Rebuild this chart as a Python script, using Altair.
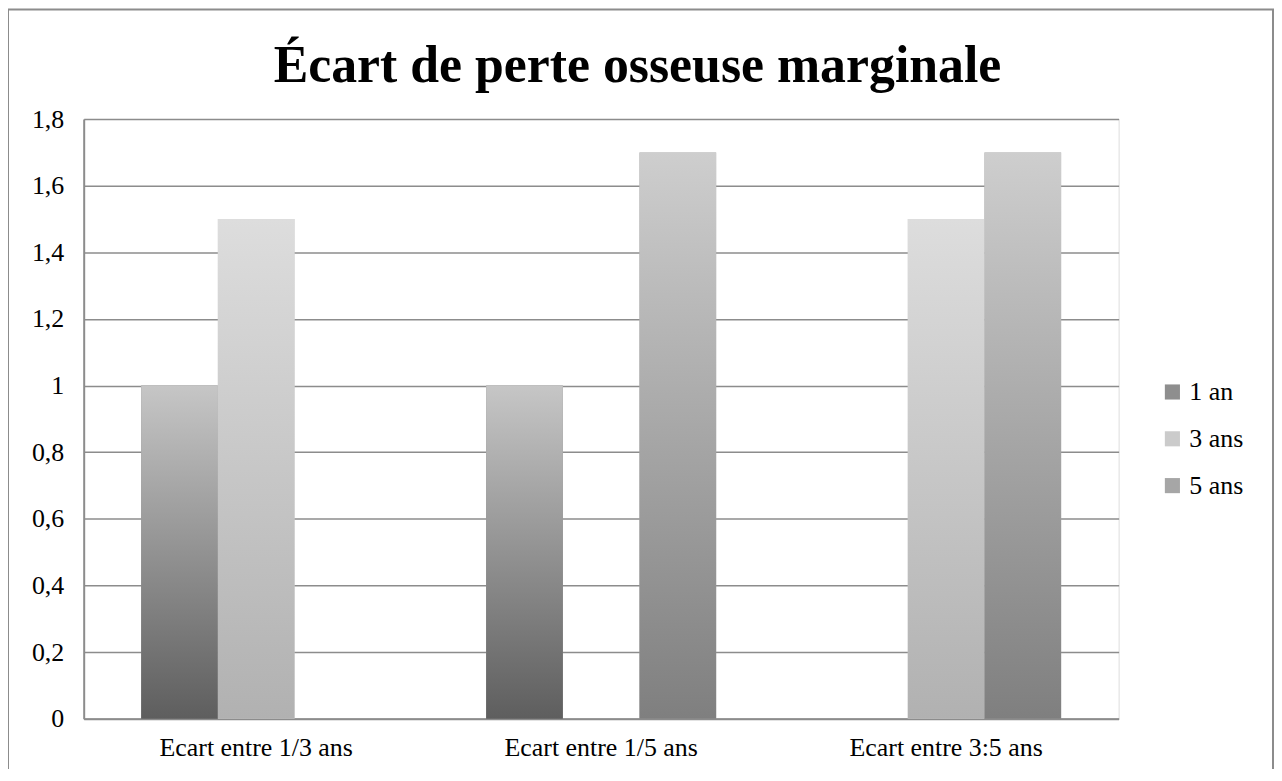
import altair as alt
import pandas as pd

# ---- data ----
categories = ["Ecart entre 1/3 ans", "Ecart entre 1/5 ans", "Ecart entre 3:5 ans"]
series = ["1 an", "3 ans", "5 ans"]
values_1an = [1.0, 1.0, None]
values_3ans = [1.5, None, 1.5]
values_5ans = [None, 1.7, 1.7]
y_ticks = [0, 0.2, 0.4, 0.6, 0.8, 1.0, 1.2, 1.4, 1.6, 1.8]
title_text = "Écart de perte osseuse marginale"

rows = []
for s, vals in zip(series, [values_1an, values_3ans, values_5ans]):
    for c, v in zip(categories, vals):
        if v is not None:
            rows.append({"cat": c, "serie": s, "val": v})
df = pd.DataFrame(rows)

# ---- styles ----
FONT = "Liberation Serif"
grad = {  # (top, bottom)
    "1 an": ("#c6c6c6", "#5e5e5e"),
    "3 ans": ("#dddddd", "#b1b1b1"),
    "5 ans": ("#cecece", "#7f7f7f"),
}
legend_colors = ["#8e8e8e", "#cbcbcb", "#a6a6a6"]
GRID = "#8c8c8c"

W, H = 1039, 602

x_enc = alt.X(
    "cat:N", sort=categories,
    scale=alt.Scale(domain=categories, paddingInner=1/3, paddingOuter=1/6),
    axis=alt.Axis(title=None, labelAngle=0, labelFont=FONT, labelFontSize=26,
                  labelColor="#000", labelPadding=16, ticks=False, labelLimit=0,
                  domainColor=GRID, domainWidth=2),
)
xo_enc = alt.XOffset("serie:N", sort=series,
                     scale=alt.Scale(domain=series, paddingInner=0, paddingOuter=0))
y_enc = alt.Y(
    "val:Q", scale=alt.Scale(domain=[0, 1.8], nice=False, zero=True),
    axis=alt.Axis(title=None, values=y_ticks,
                  labelExpr="replace(format(datum.value, '.1~f'), '.', ',')",
                  labelFont=FONT, labelFontSize=26, labelColor="#000",
                  labelPadding=20, ticks=False, grid=True, gridColor=GRID,
                  gridWidth=1.5, domainColor=GRID, domainWidth=2),
)

base = alt.Chart(df).encode(x=x_enc, xOffset=xo_enc, y=y_enc)

legend_layer = base.mark_bar().encode(
    color=alt.Color(
        "serie:N", sort=series,
        scale=alt.Scale(domain=series, range=legend_colors),
        legend=alt.Legend(title=None, orient="none", legendX=1080, legendY=261,
                          symbolType="square", symbolSize=230, symbolStrokeWidth=0,
                          labelFont=FONT, labelFontSize=26, labelColor="#000",
                          labelOffset=4, rowPadding=21),
    )
)

grad_layers = []
for s in series:
    top, bottom = grad[s]
    grad_layers.append(
        base.transform_filter(alt.datum.serie == s).mark_bar(
            color=alt.LinearGradient(
                gradient="linear",
                stops=[alt.GradientStop(offset=0, color=top),
                       alt.GradientStop(offset=1, color=bottom)],
                x1=0, x2=0, y1=0, y2=1,
            )
        )
    )

one = alt.Data(values=[{"k": 1}])
title_layer = alt.Chart(one).mark_text(
    text=title_text, font=FONT, fontSize=52, fontWeight="bold",
    align="center", baseline="alphabetic", color="#000",
).encode(x=alt.value(556), y=alt.value(-37))

frame_layer = alt.Chart(one).mark_rect(
    fill="transparent", stroke=GRID, strokeWidth=2
).encode(x=alt.value(-76), x2=alt.value(1194), y=alt.value(-110), y2=alt.value(700))

chart = alt.layer(frame_layer, legend_layer, *grad_layers, title_layer).properties(
    width=W, height=H,
    autosize=alt.AutoSizeParams(type="none"),
    padding={"left": 76, "top": 110, "right": 156, "bottom": 49},
).configure_view(stroke=None).configure(background="white")

chart.save("out.html", embed_options={"renderer": "svg", "actions": False})
